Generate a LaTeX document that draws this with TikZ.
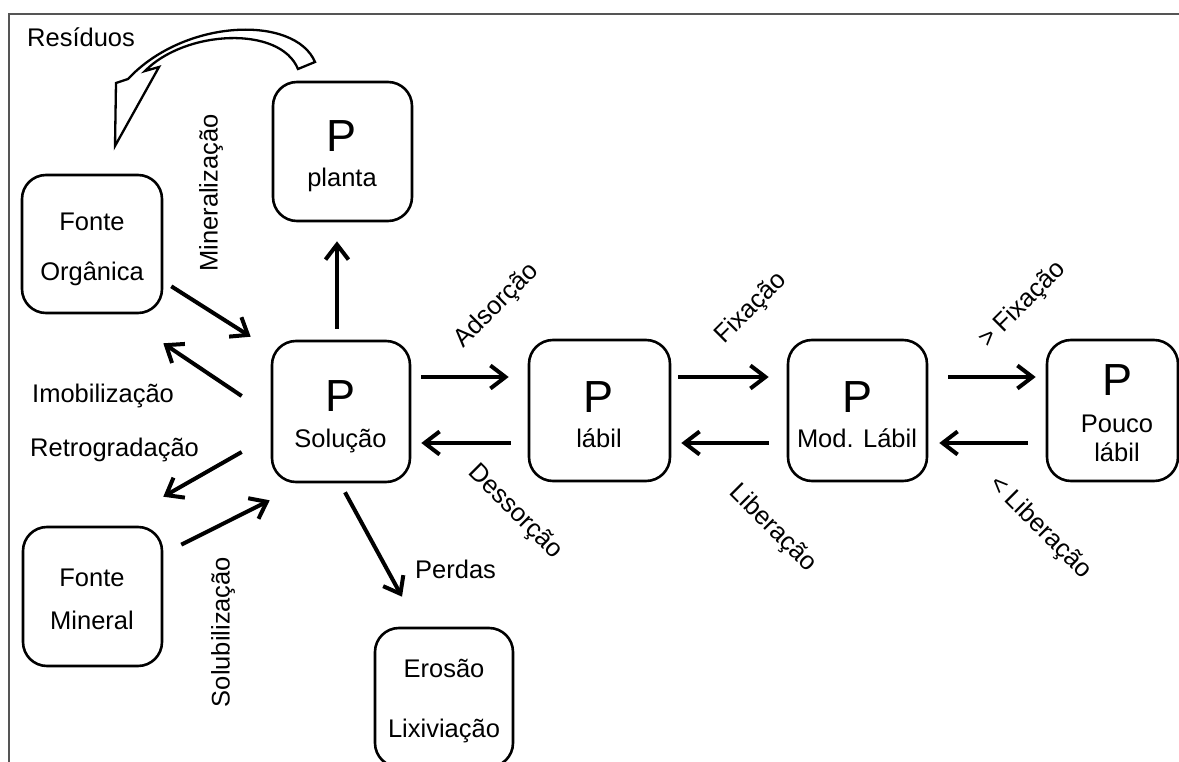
\documentclass[tikz,border=0pt]{standalone}
\usepackage{fontspec}
\setmainfont{Liberation Sans}
\usetikzlibrary{arrows.meta,calc}
\definecolor{framegray}{RGB}{85,85,85}
\begin{document}
\begin{tikzpicture}[x=1pt,y=-1pt,
  box/.style={draw,line width=2.6pt,rounded corners=24pt,inner sep=0pt},
  lbl/.style={font=\fontsize{25.5}{30}\selectfont,inner sep=0pt},
  big/.style={font=\fontsize{45}{45}\selectfont,inner sep=0pt},
  arr/.style={line width=4pt,-{Straight Barb[length=15pt,width=23pt]}},
  blockarrow/.style={draw,line width=2.3pt,fill=white,line join=miter}
]
\useasboundingbox (0,0) rectangle (1179,762);
% frame
\draw[framegray,line width=2pt] (8.5,770) -- (8.5,14) -- (1185,14);

% boxes
\node[box,minimum width=140pt,minimum height=138pt] (org) at (92,244) {};
\node[box,minimum width=139pt,minimum height=139pt] (min) at (92.5,596.5) {};
\node[box,minimum width=139pt,minimum height=139pt] (planta) at (342.5,151.5) {};
\node[box,minimum width=138pt,minimum height=141pt] (sol) at (341,411.5) {};
\node[box,minimum width=141pt,minimum height=141pt] (lab) at (599.5,410.5) {};
\node[box,minimum width=139pt,minimum height=141pt] (mod) at (857.5,410.5) {};
\node[box,minimum width=131pt,minimum height=141pt] (pouco) at (1112.5,410.5) {};
\node[box,minimum width=138pt,minimum height=139pt] (eros) at (444,697.5) {};

% box texts
\node[lbl,anchor=base] (orgA) at (92,231) {Fonte};
\node[lbl,anchor=base] (orgB) at (92,281) {Orgânica};
\node[lbl,anchor=base] (minA) at (92,586) {Fonte};
\node[lbl,anchor=base] (minB) at (92,629) {Mineral};
\node[big,anchor=base] (plantaP) at (342,152) {P};
\node[lbl,anchor=base] (plantaT) at (342,187) {planta};
\node[big,anchor=base] (solP) at (341,411) {P};
\node[lbl,anchor=base] (solT) at (340.5,447) {Solução};
\node[big,anchor=base] (labP) at (599,412) {P};
\node[lbl,anchor=base] (labT) at (599,447) {lábil};
\node[big,anchor=base] (modP) at (857,412) {P};
\node[lbl,anchor=base] (modT) at (857,447) {Mod. Lábil};
\node[big,anchor=base] (poucoP) at (1117,395) {P};
\node[lbl,anchor=base] (poucoA) at (1117,432) {Pouco};
\node[lbl,anchor=base] (poucoB) at (1117,461) {lábil};
\node[lbl,anchor=base] (erosA) at (444,677) {Erosão};
\node[lbl,anchor=base] (erosB) at (444,737) {Lixiviação};

% labels
\node[lbl,anchor=base west] (res) at (27,47) {Resíduos};
\node[lbl,rotate=90] (mineral) at (211,193) {Mineralização};
\node[lbl,anchor=base west] (imob) at (32,402) {Imobilização};
\node[lbl,anchor=base west] (retro) at (30,456) {Retrogradação};
\node[lbl,rotate=90] (solub) at (223,632) {Solubilização};
\node[lbl,anchor=base west] (perdas) at (415,578) {Perdas};
\node[lbl,rotate=45] (adsor) at (497,306) {Adsorção};
\node[lbl,rotate=-45] (dessor) at (515,512) {Dessorção};
\node[lbl,rotate=45] (fix1) at (751,308) {Fixação};
\node[lbl,rotate=-45] (lib1) at (773,528) {Liberação};
\node[lbl,rotate=45] (fix2) at (1023,305) {> Fixação};
\node[lbl,rotate=-45] (lib2) at (1040,528) {< Liberação};

% curved block arrow (Resíduos)
\path[blockarrow] (315,62) .. controls (295,15) and (185,18) .. (128,79)
  -- (116,83) -- (115,146) -- (159,67) -- (145,71)
  .. controls (185,30) and (280,25) .. (298,69) -- cycle;

% connectors
\draw[arr] ($(sol.north)+(-4,-11)$) -- ($(planta.south)+(-5.5,19)$);
\draw[arr] ($(sol.east)+(10,-34.5)$) -- ($(lab.west)+(-19,-33.5)$);
\draw[arr] ($(lab.west)+(-17,32.5)$) -- ($(sol.east)+(10,31.5)$);
\draw[arr] ($(lab.east)+(7,-33.5)$) -- ($(mod.west)+(-18,-33.5)$);
\draw[arr] ($(mod.west)+(-18,32.5)$) -- ($(lab.east)+(10,32.5)$);
\draw[arr] ($(mod.east)+(20,-33.5)$) -- ($(pouco.west)+(-10,-33.5)$);
\draw[arr] ($(pouco.west)+(-18,32.5)$) -- ($(mod.east)+(11,32.5)$);
\draw[arr] ($(org.south east)+(8,-28)$) -- ($(sol.north west)+(-20,-3)$);
\draw[arr] ($(sol.west)+(-29,-15.5)$) -- ($(org.south east)+(0,29)$);
\draw[arr] ($(sol.west)+(-29,40.5)$) -- ($(min.north east)+(0,-29)$);
\draw[arr] ($(min.north east)+(18,19)$) -- ($(sol.south west)+(-1,17)$);
\draw[arr] ($(sol.south)+(4,9)$) -- ($(eros.north)+(-42,-30)$);
\end{tikzpicture}
\end{document}
